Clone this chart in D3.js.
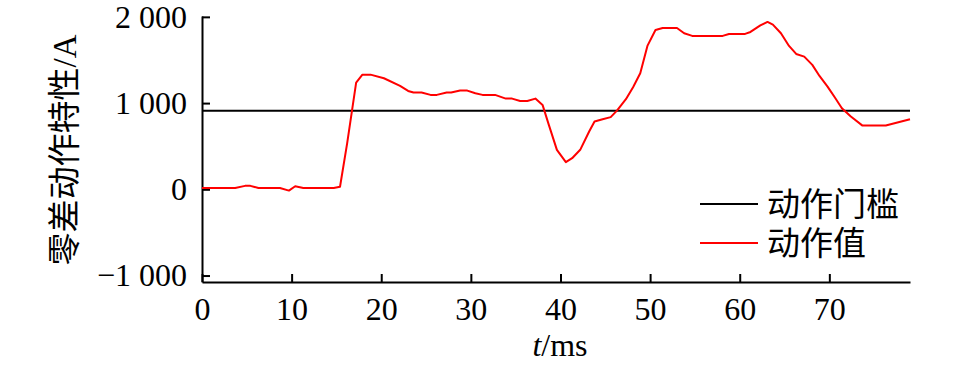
<!DOCTYPE html>
<html>
<head>
<meta charset="utf-8">
<script src="https://cdn.jsdelivr.net/npm/d3@7"></script>
<style>
  body { margin: 0; background: #fff; }
  svg { display: block; }
</style>
</head>
<body>
<svg id="chart" width="957" height="366"></svg>
<script>
// time (ms) and action value (A)
var times = [0, 3.7, 4.8, 5.4, 6.3, 8.7, 9.7, 10.4, 11.3, 14.7, 15.4, 16.2, 17.2, 17.9, 18.8,
  20.3, 22.1, 23.0, 23.6, 24.5, 25.5, 26.2, 27.3, 27.8, 28.8, 29.6, 30.5, 31.3, 32.7, 33.9,
  34.6, 35.5, 36.3, 37.2, 38.0, 38.7, 39.6, 40.6, 41.3, 42.2, 43.2, 43.8, 44.7, 45.6, 46.3,
  47.3, 48.1, 48.9, 49.7, 50.6, 51.4, 53.0, 53.8, 54.7, 58.1, 58.8, 60.6, 61.2, 62.3, 63.1,
  63.7, 64.6, 65.5, 66.3, 67.2, 68.1, 68.9, 69.8, 70.6, 71.4, 72.4, 73.7, 76.3, 79.0];
var values = [15, 15, 40, 40, 15, 15, -15, 35, 15, 15, 30, 535, 1238, 1330, 1330,
  1288, 1199, 1141, 1122, 1122, 1095, 1095, 1122, 1122, 1145, 1145, 1114, 1095, 1095, 1052,
  1052, 1025, 1025, 1052, 979, 747, 458, 315, 361, 458, 670, 786, 813, 837, 913,
  1045, 1184, 1346, 1663, 1848, 1871, 1871, 1810, 1779, 1779, 1802, 1802, 1825, 1902, 1941,
  1910, 1810, 1663, 1570, 1539, 1443, 1315, 1191, 1068, 941, 844, 739, 739, 813];
var threshold = 910;
var xTicks = [0, 10, 20, 30, 40, 50, 60, 70];
var yTicks = [-1000, 0, 1000, 2000];
var yTickLabels = ["\u22121 000", "0", "1 000", "2 000"];
var legendLabels = ["动作门槛", "动作值"];
var legendColors = ["#000", "#ff0000"];

var svg = d3.select("#chart");
var serif = "'Liberation Serif', 'Times New Roman', serif";
var cjk = "'Noto Sans CJK SC', sans-serif";

var x = d3.scaleLinear().domain([0, 79]).range([202, 910]);
var y = d3.scaleLinear().domain([-1075, 2010]).range([282, 16]);

// axes
var xAxis = svg.append("g")
  .attr("transform", "translate(0," + y.range()[0] + ")")
  .call(d3.axisBottom(x).tickValues(xTicks).tickSizeInner(-8).tickSizeOuter(0).tickPadding(15));
var yAxis = svg.append("g")
  .attr("transform", "translate(" + x.range()[0] + ",0)")
  .call(d3.axisLeft(y).tickValues(yTicks).tickSizeInner(-8).tickSizeOuter(0).tickPadding(15)
    .tickFormat(function(d, i) { return yTickLabels[i]; }));

[xAxis, yAxis].forEach(function(g) {
  g.select(".domain").attr("stroke", "#000").attr("stroke-width", 2);
  g.selectAll(".tick line").attr("stroke", "#000").attr("stroke-width", 2);
  g.selectAll(".tick text").attr("fill", "#000").style("font-family", serif).style("font-size", "32px");
});

// threshold
svg.append("line")
  .attr("x1", x(0)).attr("x2", x(79))
  .attr("y1", y(threshold)).attr("y2", y(threshold))
  .attr("stroke", "#000").attr("stroke-width", 2);

// action value curve
var line = d3.line()
  .x(function(d, i) { return x(times[i]); })
  .y(function(d) { return y(d); });

svg.append("path")
  .datum(values)
  .attr("d", line)
  .attr("fill", "none")
  .attr("stroke", "#ff0000")
  .attr("stroke-width", 2)
  .attr("stroke-linejoin", "round");

// legend
var legend = svg.selectAll(".legend")
  .data(legendLabels)
  .enter()
  .append("g")
  .attr("transform", function(d, i) { return "translate(700," + (204 + i * 39) + ")"; });

legend.append("line")
  .attr("x1", 0).attr("x2", 58)
  .attr("stroke", function(d, i) { return legendColors[i]; })
  .attr("stroke-width", 2);

legend.append("text")
  .attr("x", 67).attr("y", 0)
  .attr("dy", "0.36em")
  .style("font-family", cjk).style("font-size", "33px")
  .text(function(d) { return d; });

// axis titles
var xt = svg.append("text")
  .attr("x", 560).attr("y", 356)
  .attr("text-anchor", "middle")
  .style("font-family", serif).style("font-size", "32px");
xt.append("tspan").style("font-style", "italic").text("t");
xt.append("tspan").text("/ms");

var yt = svg.append("text")
  .attr("transform", "translate(76,150) rotate(-90)")
  .attr("text-anchor", "middle")
  .style("font-size", "33px");
yt.append("tspan").style("font-family", cjk).text("零差动作特性");
yt.append("tspan").style("font-family", serif).text("/A");
</script>
</body>
</html>
